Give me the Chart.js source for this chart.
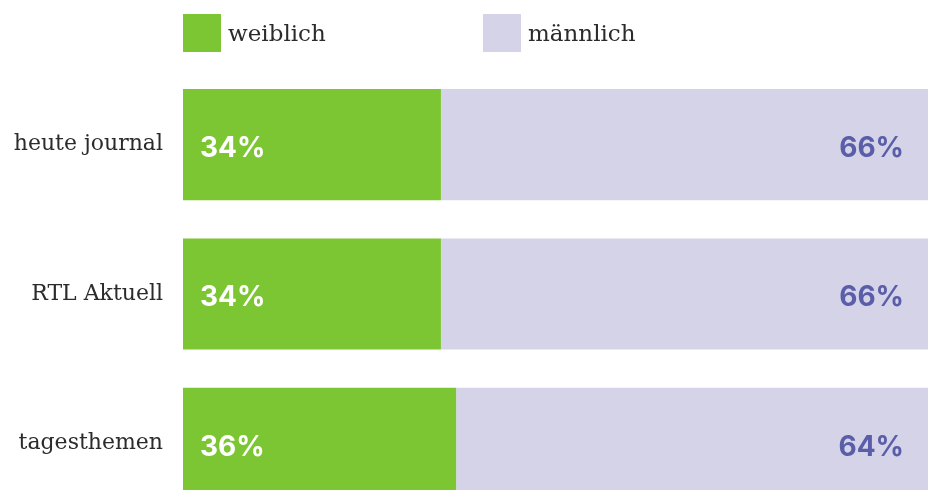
<!DOCTYPE html>
<html>
<head>
<meta charset="utf-8">
<script src="https://cdn.jsdelivr.net/npm/chart.js@4"></script>
<style>
  html, body { margin: 0; padding: 0; background: #fff; overflow: hidden; }
  #wrap { position: relative; width: 928px; height: 490px; overflow: hidden; }
  /* last bar runs past the bottom edge, so the canvas is a bit taller than the page */
  #chartBox { position: absolute; left: 0; top: 0; width: 928px; height: 518px; }
  .legend { position: absolute; top: 14px; height: 38px; display: flex; align-items: center;
            font-family: "DejaVu Serif", serif; font-size: 23px; color: #2b2b2b; }
  .legend span.box { display: inline-block; width: 38px; height: 38px; margin-right: 7px; }
</style>
</head>
<body>
<div id="wrap">
  <div id="chartBox"><canvas id="myChart"></canvas></div>
  <div class="legend" style="left:183px"><span class="box" style="background:#7dc633"></span><span id="lg0"></span></div>
  <div class="legend" style="left:483px"><span class="box" style="background:#d4d3e8"></span><span id="lg1"></span></div>
</div>
<script>
// data
const categories = ["heute journal", "RTL Aktuell", "tagesthemen"];
const seriesNames = ["weiblich", "männlich"];
const female = [34, 34, 36];
const male = [66, 66, 64];

const green = "#7dc633";
const lavender = "#d4d3e8";
const purpleText = "#5a5ea8";

document.getElementById("lg0").textContent = seriesNames[0];
document.getElementById("lg1").textContent = seriesNames[1];

// draw the percent labels inside the bars
const barLabels = {
  id: "barLabels",
  afterDatasetsDraw(chart) {
    const ctx = chart.ctx;
    const area = chart.chartArea;
    ctx.save();
    ctx.font = "700 28px Inter, 'Noto Sans', sans-serif";
    ctx.textBaseline = "middle";
    chart.data.datasets.forEach((ds, i) => {
      const meta = chart.getDatasetMeta(i);
      meta.data.forEach((bar, j) => {
        const txt = ds.data[j] + "%";
        if (i === 0) {
          ctx.fillStyle = "#ffffff";
          ctx.textAlign = "left";
          ctx.fillText(txt, bar.base + 17, bar.y + 4);
        } else {
          ctx.fillStyle = purpleText;
          ctx.textAlign = "right";
          ctx.fillText(txt, area.right - 24, bar.y + 4);
        }
      });
    });
    ctx.restore();
  }
};

const ctx = document.getElementById("myChart").getContext("2d");
const myChart = new Chart(ctx, {
  type: "bar",
  data: {
    labels: categories,
    datasets: [
      { label: seriesNames[0], data: female, backgroundColor: green,
        barPercentage: 0.744, categoryPercentage: 1 },
      { label: seriesNames[1], data: male, backgroundColor: lavender,
        barPercentage: 0.744, categoryPercentage: 1 }
    ]
  },
  options: {
    indexAxis: "y",
    responsive: true,
    maintainAspectRatio: false,
    animation: false,
    layout: { padding: { top: 70, right: 0, bottom: 0, left: 0 } },
    plugins: { legend: { display: false }, tooltip: { enabled: false } },
    scales: {
      x: {
        stacked: true, min: 0, max: 98.2,
        display: false
      },
      y: {
        stacked: true,
        grid: { display: false, drawTicks: false },
        border: { display: false },
        ticks: {
          padding: 20,
          color: "#2b2b2b",
          font: { family: "'DejaVu Serif', serif", size: 22 }
        },
        afterFit(scale) {
          scale.width = 183;
          scale.paddingTop = 0;
          scale.paddingBottom = 0;
        }
      }
    }
  },
  plugins: [barLabels]
});
</script>
</body>
</html>
